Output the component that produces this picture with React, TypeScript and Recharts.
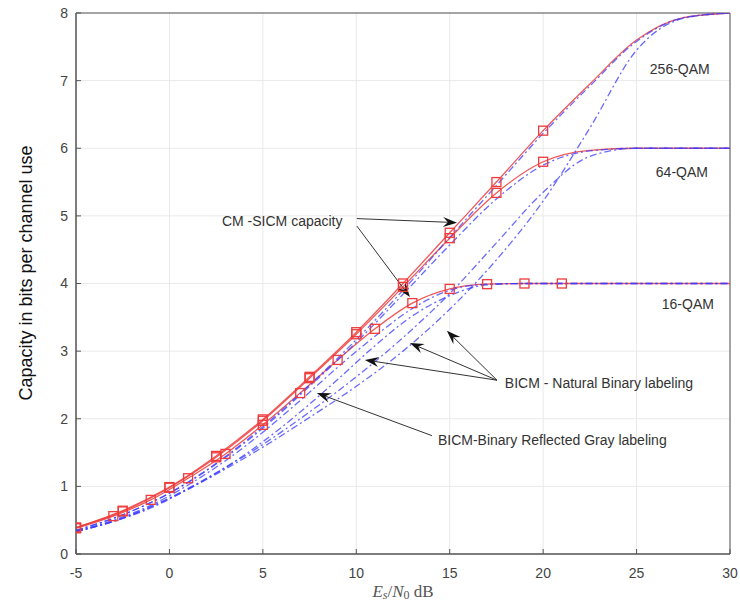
import React from 'react';
import { LineChart, Line, XAxis, YAxis, CartesianGrid, ReferenceLine, ReferenceArea, ReferenceDot } from 'recharts';

// SNR grids (dB)
const snrQ = [-5, -2.5, 0, 2.5, 5, 7.5, 10, 12.5, 15, 17.5, 20, 22.5, 25, 27.5, 30];
const snr16 = [-5, -3, -1, 1, 3, 5, 7, 9, 11, 13, 15, 17, 19, 21, 25, 30];

// CM capacity (red, squares)
const cm256 = [0.39, 0.64, 0.99, 1.45, 1.99, 2.62, 3.28, 4.0, 4.75, 5.5, 6.26, 6.95, 7.6, 7.93, 8.0];
const cm64 = [0.39, 0.63, 0.98, 1.43, 1.97, 2.6, 3.25, 3.95, 4.67, 5.34, 5.8, 5.97, 6.0, 6.0, 6.0];
const cm16 = [0.38, 0.56, 0.8, 1.12, 1.48, 1.91, 2.38, 2.87, 3.33, 3.71, 3.92, 3.99, 4.0, 4.0, 4.0, 4.0];

// BICM, binary reflected Gray labeling
const gray256 = [0.35, 0.58, 0.9, 1.34, 1.88, 2.5, 3.17, 3.9, 4.68, 5.45, 6.22, 6.92, 7.58, 7.93, 8.0];
const gray64 = [0.35, 0.58, 0.9, 1.33, 1.86, 2.48, 3.13, 3.84, 4.57, 5.25, 5.75, 5.96, 6.0, 6.0, 6.0];
const gray16 = [0.34, 0.5, 0.72, 1.02, 1.38, 1.8, 2.27, 2.76, 3.22, 3.63, 3.9, 3.99, 4.0, 4.0, 4.0, 4.0];

// BICM, natural binary labeling
const nbl256 = [0.33, 0.53, 0.82, 1.18, 1.58, 2.02, 2.48, 3.0, 3.62, 4.35, 5.22, 6.3, 7.45, 7.92, 8.0];
const nbl64 = [0.33, 0.53, 0.83, 1.2, 1.62, 2.1, 2.62, 3.2, 3.85, 4.6, 5.35, 5.88, 6.0, 6.0, 6.0];
const nbl16 = [0.33, 0.48, 0.68, 0.96, 1.28, 1.66, 2.1, 2.58, 3.08, 3.52, 3.82, 3.98, 4.0, 4.0, 4.0, 4.0];

const xTicks = [-5, 0, 5, 10, 15, 20, 25, 30];
const yTicks = [0, 1, 2, 3, 4, 5, 6, 7, 8];

const pts = (xs: number[], ys: number[]) => xs.map((x, i) => ({ x, y: ys[i] }));

const RED = '#ee3b3b';
const BLUE = '#3a3aff';
const FONT = '"Liberation Sans", Arial, Helvetica, sans-serif';

const squareDot = (maxX: number) => (props: any) => {
  const { cx, cy, payload, index } = props;
  if (cx == null || cy == null || payload.x > maxX) return <g key={index} />;
  return (
    <rect key={index} x={cx - 4.5} y={cy - 4.5} width={9} height={9} fill="none" stroke={RED} strokeWidth={1.3} />
  );
};

const arrowShape = (props: any) => {
  const { x1, y1, x2, y2 } = props;
  const a = Math.atan2(y2 - y1, x2 - x1);
  const c = Math.cos(a);
  const s = Math.sin(a);
  const L = 14;
  const W = 5;
  const bx = x2 - L * c;
  const by = y2 - L * s;
  const nx = x2 - 0.65 * L * c;
  const ny = y2 - 0.65 * L * s;
  const poly = `${x2},${y2} ${bx + W * s},${by - W * c} ${nx},${ny} ${bx - W * s},${by + W * c}`;
  return (
    <g>
      <line x1={x1} y1={y1} x2={nx} y2={ny} stroke="#333" strokeWidth={1} />
      <polygon points={poly} fill="#111" />
    </g>
  );
};

const textShape = (label: string) => (props: any) => (
  <text x={props.cx} y={props.cy} dominantBaseline="central" fontFamily={FONT} fontSize={14} fill="#333">
    {label}
  </text>
);

// annotation arrows: [fromX, fromY, toX, toY]
const arrows = [
  [10.03, 4.96, 15.39, 4.9],
  [10.03, 4.85, 12.87, 3.8],
  [17.53, 2.57, 14.85, 3.3],
  [17.53, 2.57, 12.87, 3.12],
  [17.53, 2.57, 10.46, 2.87],
  [14.05, 1.75, 7.89, 2.38],
];

const notes: [string, number, number][] = [
  ['CM -SICM capacity', 2.81, 4.93],
  ['256-QAM', 25.71, 7.17],
  ['64-QAM', 26.03, 5.65],
  ['16-QAM', 26.35, 3.7],
  ['BICM - Natural Binary labeling', 17.95, 2.53],
  ['BICM-Binary Reflected Gray labeling', 14.37, 1.69],
];

const YTitle = () => (
  <text transform="translate(26,273) rotate(-90)" textAnchor="middle" dominantBaseline="central" fontFamily={FONT} fontSize={18} fill="#111">
    Capacity in bits per channel use
  </text>
);

const XTitle = () => (
  <text x={403} y={591} textAnchor="middle" dominantBaseline="central" fontFamily='"Liberation Serif", "Times New Roman", serif' fontSize={17} fill="#555">
    <tspan fontStyle="italic">E</tspan>
    <tspan fontStyle="italic" fontSize={12} dy={4}>s</tspan>
    <tspan dy={-4}>/</tspan>
    <tspan fontStyle="italic">N</tspan>
    <tspan fontSize={12} dy={4}>0</tspan>
    <tspan dy={-4}> dB</tspan>
  </text>
);

const tickStyle = { fill: '#444', fontSize: 14, fontFamily: FONT };

export default function App() {
  const blueLine = { stroke: BLUE, strokeWidth: 1.3, strokeOpacity: 0.75, strokeDasharray: '7 3 2 3', dot: false, isAnimationActive: false, type: 'monotone' as const };
  const redLine = { stroke: RED, strokeWidth: 1.3, strokeOpacity: 0.85, isAnimationActive: false, type: 'monotone' as const };
  return (
    <div style={{ position: 'absolute', left: 0, top: 0, background: '#fff' }}>
      <LineChart width={740} height={606} margin={{ top: 13, right: 10, bottom: 0, left: 0 }}>
        <CartesianGrid stroke="#e9e9e9" />
        <XAxis
          type="number"
          dataKey="x"
          domain={[-5, 30]}
          ticks={xTicks}
          allowDataOverflow
          height={52}
          stroke="#555"
          tickSize={-5}
          tickMargin={19}
          tick={tickStyle}
          label={<XTitle />}
        />
        <YAxis
          type="number"
          dataKey="y"
          domain={[0, 8]}
          ticks={yTicks}
          allowDataOverflow
          width={76}
          stroke="#555"
          tickSize={-5}
          tickMargin={13}
          tick={tickStyle}
          label={<YTitle />}
        />
        <ReferenceArea x1={-5} x2={30} y1={0} y2={8} fill="none" fillOpacity={0} stroke="#555" strokeWidth={1} />
        <Line data={pts(snr16, cm16)} dataKey="y" {...redLine} dot={squareDot(21)} />
        <Line data={pts(snrQ, cm64)} dataKey="y" {...redLine} dot={squareDot(20)} />
        <Line data={pts(snrQ, cm256)} dataKey="y" {...redLine} dot={squareDot(20)} />
        <Line data={pts(snr16, gray16)} dataKey="y" {...blueLine} />
        <Line data={pts(snrQ, gray64)} dataKey="y" {...blueLine} />
        <Line data={pts(snrQ, gray256)} dataKey="y" {...blueLine} />
        <Line data={pts(snr16, nbl16)} dataKey="y" {...blueLine} />
        <Line data={pts(snrQ, nbl64)} dataKey="y" {...blueLine} />
        <Line data={pts(snrQ, nbl256)} dataKey="y" {...blueLine} />
        {arrows.map((a, i) => (
          <ReferenceLine key={`a${i}`} segment={[{ x: a[0], y: a[1] }, { x: a[2], y: a[3] }]} shape={arrowShape} />
        ))}
        {notes.map(([t, x, y]) => (
          <ReferenceDot key={t} x={x} y={y} r={0} shape={textShape(t)} />
        ))}
      </LineChart>
    </div>
  );
}
